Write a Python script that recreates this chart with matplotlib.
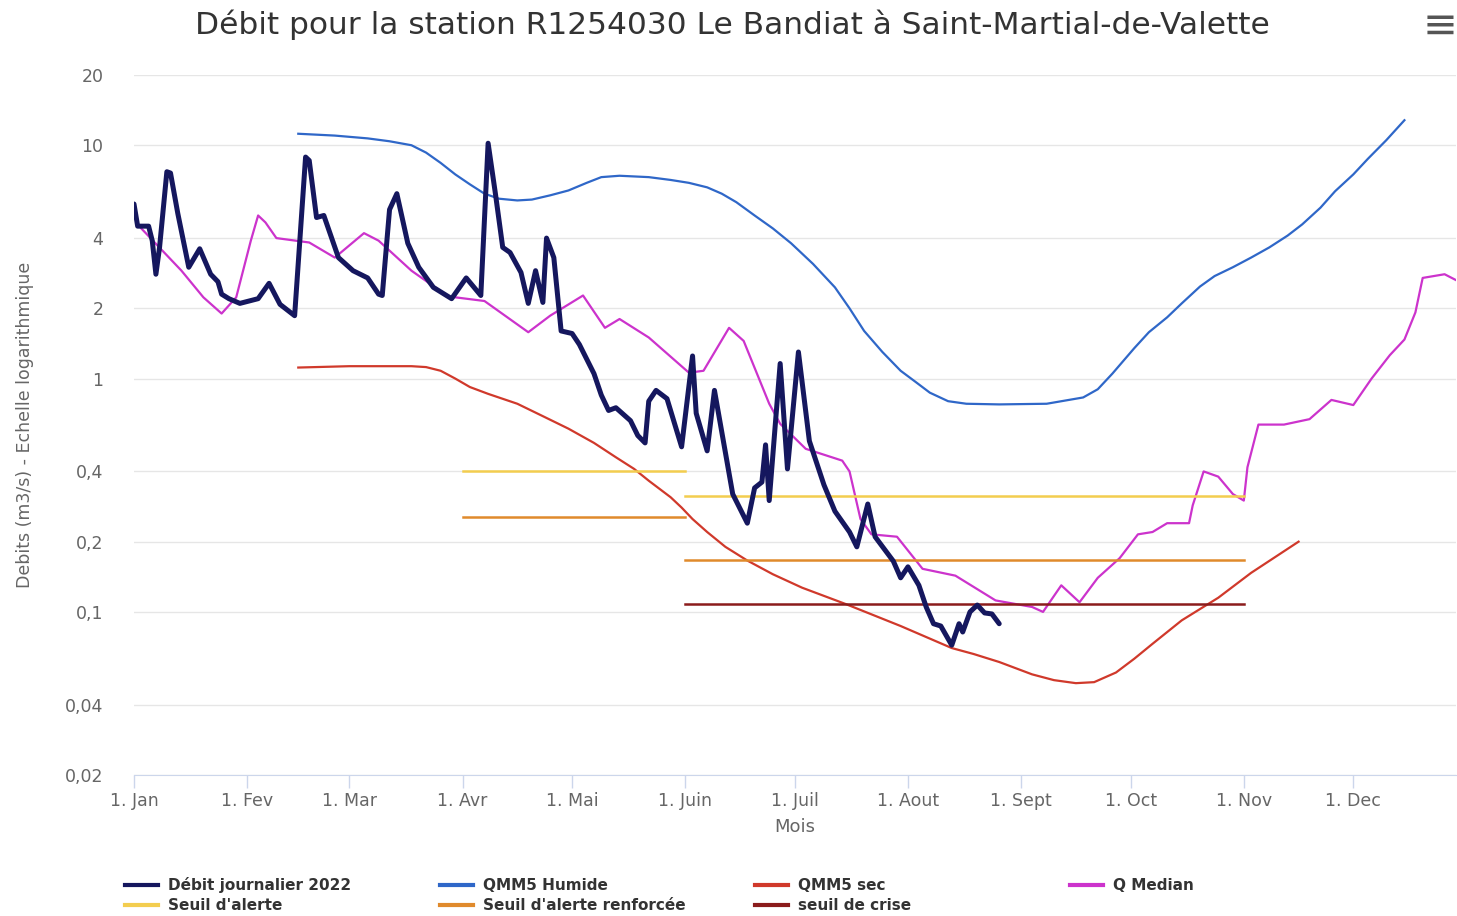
import numpy as np
import matplotlib
matplotlib.use("Agg")
import matplotlib.pyplot as plt
from matplotlib.lines import Line2D

# day of year (0 = 1 Jan 2022) and flows in m3/s
debit_j = [0, 1, 4, 5, 6, 7, 9, 10, 12, 15, 18, 21, 23, 24, 26, 29, 34, 37, 40, 44,
           47, 48, 50, 52, 56, 60, 64, 67, 68, 70, 72, 75, 78, 82, 87, 91, 95, 97, 99,
           101, 103, 106, 108, 110, 112, 113, 115, 117, 120, 122, 126, 128, 130, 132,
           136, 138, 140, 141, 143, 146, 150, 153, 154, 157, 159, 164, 168, 170, 172,
           173, 174, 177, 179, 182, 185, 189, 192, 196, 198, 201, 203, 208, 210, 212,
           215, 217, 219, 221, 224, 226, 227, 229, 231, 233, 235, 237]
debit_v = [5.6, 4.5, 4.5, 3.9, 2.8, 3.65, 7.7, 7.6, 5.1, 3.0, 3.6, 2.8, 2.6, 2.3, 2.2,
           2.1, 2.2, 2.56, 2.08, 1.86, 8.9, 8.6, 4.9, 5.0, 3.3, 2.9, 2.7, 2.3, 2.27, 5.3,
           6.2, 3.8, 3.0, 2.46, 2.2, 2.7, 2.27, 10.2, 6.2, 3.65, 3.47, 2.85, 2.1, 2.9,
           2.12, 4.0, 3.3, 1.6, 1.56, 1.4, 1.05, 0.85, 0.73, 0.75, 0.66, 0.57, 0.53, 0.8,
           0.89, 0.82, 0.51, 1.25, 0.71, 0.49, 0.89, 0.32, 0.24, 0.34, 0.36, 0.52, 0.30,
           1.16, 0.41, 1.30, 0.54, 0.35, 0.27, 0.22, 0.19, 0.29, 0.21, 0.165, 0.14,
           0.156, 0.13, 0.105, 0.089, 0.087, 0.072, 0.089, 0.082, 0.10, 0.107, 0.099,
           0.098, 0.089]

humide_j = [45, 55, 64, 70, 76, 80, 84, 88, 92, 96, 100, 105, 109, 114, 119, 124, 128,
            133, 141, 147, 152, 157, 161, 165, 170, 175, 180, 186, 192, 196, 200, 205,
            210, 214, 218, 223, 228, 237, 250, 260, 264, 268, 274, 278, 283, 287, 292,
            296, 301, 306, 311, 316, 320, 325, 329, 334, 338, 343, 348]
humide_v = [11.2, 11.0, 10.7, 10.4, 10.0, 9.3, 8.4, 7.5, 6.8, 6.2, 5.9, 5.8, 5.85, 6.1,
            6.4, 6.9, 7.3, 7.4, 7.3, 7.1, 6.9, 6.6, 6.2, 5.7, 5.0, 4.4, 3.8, 3.1, 2.46,
            2.0, 1.6, 1.3, 1.08, 0.97, 0.87, 0.80, 0.78, 0.775, 0.78, 0.83, 0.9, 1.05,
            1.35, 1.58, 1.83, 2.1, 2.48, 2.75, 3.0, 3.3, 3.65, 4.1, 4.58, 5.4, 6.35, 7.5,
            8.75, 10.5, 12.8]

sec_j = [45, 59, 76, 80, 84, 88, 92, 97, 105, 112, 119, 126, 132, 137, 141, 147, 150,
         153, 157, 162, 168, 175, 183, 195, 210, 224, 230, 237, 246, 252, 258, 263, 269,
         274, 279, 287, 297, 306, 319]
sec_v = [1.115, 1.13, 1.13, 1.12, 1.08, 1.0, 0.92, 0.86, 0.78, 0.69, 0.61, 0.53, 0.46,
         0.41, 0.365, 0.31, 0.28, 0.25, 0.22, 0.19, 0.166, 0.145, 0.127, 0.108, 0.087,
         0.07, 0.066, 0.061, 0.054, 0.051, 0.0495, 0.05, 0.055, 0.063, 0.073, 0.092,
         0.115, 0.147, 0.2]

median_j = [2, 13, 19, 24, 28, 32, 34, 36, 39, 48, 55, 63, 67, 76, 86, 96, 108, 114,
            123, 129, 133, 141, 152, 156, 163, 167, 174, 177, 184, 194, 196, 199, 202,
            209, 216, 225, 236, 246, 249, 254, 259, 264, 270, 275, 279, 283, 289, 290,
            293, 297, 301, 304, 305, 308, 315, 322, 328, 334, 339, 344, 348, 351, 353,
            359, 363]
median_v = [4.4, 2.9, 2.23, 1.9, 2.23, 3.9, 5.0, 4.67, 4.0, 3.83, 3.3, 4.2, 3.9, 2.9,
            2.25, 2.15, 1.58, 1.86, 2.27, 1.65, 1.8, 1.5, 1.06, 1.08, 1.65, 1.45, 0.78,
            0.64, 0.5, 0.445, 0.40, 0.25, 0.215, 0.21, 0.153, 0.143, 0.112, 0.105, 0.1,
            0.13, 0.11, 0.14, 0.17, 0.215, 0.22, 0.24, 0.24, 0.286, 0.40, 0.38, 0.32,
            0.30, 0.417, 0.635, 0.635, 0.67, 0.81, 0.77, 1.0, 1.26, 1.47, 1.92, 2.7, 2.8,
            2.6]

# seuils: (debut, fin, valeur)
alerte = [(90, 151, 0.40), (151, 304, 0.315)]
renforcee = [(90, 151, 0.255), (151, 304, 0.167)]
crise = [(151, 304, 0.108)]

mois_j = [0, 31, 59, 90, 120, 151, 181, 212, 243, 273, 304, 334]
mois_lab = ["1. Jan", "1. Fev", "1. Mar", "1. Avr", "1. Mai", "1. Juin", "1. Juil",
            "1. Aout", "1. Sept", "1. Oct", "1. Nov", "1. Dec"]
y_ticks = [0.02, 0.04, 0.1, 0.2, 0.4, 1, 2, 4, 10, 20]

c_debit = "#15175e"
c_humide = "#2f67c8"
c_sec = "#d0392b"
c_median = "#cc33cc"
c_alerte = "#f3cd4f"
c_renf = "#e08a2c"
c_crise = "#8b1c1c"

fig = plt.figure(figsize=(14.57, 9.16), dpi=100)
ax = fig.add_axes([134/1457, 1-775/916, 1-134/1457-0.001, (775-75)/916])

ax.plot(humide_j, humide_v, color=c_humide, lw=1.6)
ax.plot(sec_j, sec_v, color=c_sec, lw=1.6)
ax.plot(median_j, median_v, color=c_median, lw=1.6)
for a, b, v in alerte:
    ax.plot([a, b], [v, v], color=c_alerte, lw=1.8)
for a, b, v in renforcee:
    ax.plot([a, b], [v, v], color=c_renf, lw=1.8)
for a, b, v in crise:
    ax.plot([a, b], [v, v], color=c_crise, lw=1.8)
ax.plot(debit_j, debit_v, color=c_debit, lw=3.6, solid_joinstyle="round",
        solid_capstyle="round")

ax.set_yscale("log")
ax.set_ylim(0.02, 20)
ax.set_xlim(0, 362)
ax.set_yticks(y_ticks)
ax.set_yticklabels([str(t).replace(".", ",") for t in y_ticks])
ax.yaxis.set_minor_locator(matplotlib.ticker.NullLocator())
ax.set_xticks(mois_j)
ax.set_xticklabels(mois_lab)
ax.tick_params(axis="y", length=0, pad=22, labelsize=12.5, labelcolor="#666666")
ax.tick_params(axis="x", length=9, width=1, color="#ccd6eb", labelsize=12.5,
               labelcolor="#666666", pad=3)
ax.grid(axis="y", color="#e6e6e6", lw=1)
ax.set_axisbelow(True)
for s in ["top", "right", "left"]:
    ax.spines[s].set_visible(False)
ax.spines["bottom"].set_color("#ccd6eb")

ax.set_xlabel("Mois", fontsize=13, color="#666666", labelpad=6)
ax.set_ylabel("Debits (m3/s) - Echelle logarithmique", fontsize=12.5, color="#666666",
              labelpad=22)

fig.text(0.503, 0.973, "Débit pour la station R1254030 Le Bandiat à Saint-Martial-de-Valette",
         ha="center", va="center", fontsize=22.5, color="#333333")
fig.text(0.988, 0.972, "≡", ha="center", va="center", fontsize=30, color="#555555")

# legende
items = [("Débit journalier 2022", c_debit, 0, 0), ("QMM5 Humide", c_humide, 1, 0),
         ("QMM5 sec", c_sec, 2, 0), ("Q Median", c_median, 3, 0),
         ("Seuil d'alerte", c_alerte, 0, 1), ("Seuil d'alerte renforcée", c_renf, 1, 1),
         ("seuil de crise", c_crise, 2, 1)]
col_x = [125, 440, 755, 1070]
row_y = [885, 905]
for lab, col, ci, ri in items:
    x0 = col_x[ci] / 1457
    y0 = 1 - row_y[ri] / 916
    fig.add_artist(Line2D([x0, x0 + 33/1457], [y0, y0], color=col, lw=3,
                          transform=fig.transFigure))
    fig.text(x0 + 43/1457, y0, lab, ha="left", va="center", fontsize=11,
             fontweight="bold", color="#333333")

fig.savefig("out.png", dpi=100)
